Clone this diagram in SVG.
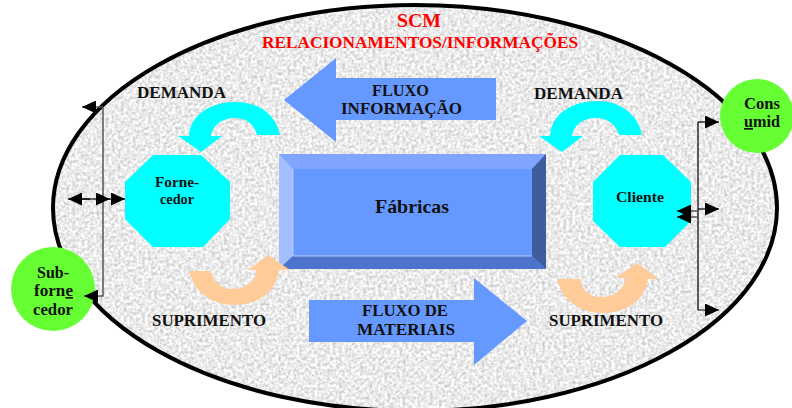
<svg xmlns="http://www.w3.org/2000/svg" width="792" height="408" viewBox="0 0 792 408">
<style>
text{font-family:"Liberation Serif","Times New Roman",serif;font-weight:bold;fill:#111;text-anchor:middle}
.l{font-size:16.5px}
.s{font-size:14px}
.n{font-size:16.5px}
.r{fill:#f00}
.c{fill:#0ff}
.o{fill:#fc9}
.b{fill:#69f}
.g{fill:#6f3}
.w{fill:none;stroke:#000;stroke-width:1.2}
.y{fill:none;stroke:#555;stroke-width:1.5}
</style>
<defs>
<filter id="grain" x="0" y="0" width="100%" height="100%" color-interpolation-filters="sRGB">
<feTurbulence type="fractalNoise" baseFrequency="0.33" numOctaves="2" seed="4"/>
<feColorMatrix values="0.42 0 0 0 0.71  0.42 0 0 0 0.71  0.42 0 0 0 0.71  0 0 0 0 1"/>
</filter>
<clipPath id="ec"><ellipse cx="415" cy="208" rx="362" ry="203"/></clipPath>
<marker id="h" markerWidth="14" markerHeight="13" refX="14" refY="6.5" orient="auto" markerUnits="userSpaceOnUse"><path d="M0 0L14 6.5L0 13Z" fill="#000"/></marker>
</defs>
<g id="background">
<g clip-path="url(#ec)"><rect x="50" y="3" width="730" height="405" filter="url(#grain)"/></g>
<ellipse cx="415" cy="208" rx="362" ry="203" fill="none" stroke="#000" stroke-width="4"/>
</g>
<g id="titles">
<text x="419" y="27" class="r" style="font-size:18.5px" textLength="44" lengthAdjust="spacingAndGlyphs">SCM</text>
<text x="420" y="48" class="r" style="font-size:16.5px" textLength="316" lengthAdjust="spacingAndGlyphs">RELACIONAMENTOS/INFORMAÇÕES</text>
</g>
<g id="fluxo-informacao">
<path class="b" d="M284 100L336 58V78H496V120H336V142Z"/>
<text x="400.5" y="96" class="l" textLength="57" lengthAdjust="spacingAndGlyphs">FLUXO</text>
<text x="401.5" y="114" class="l" textLength="121" lengthAdjust="spacingAndGlyphs">INFORMAÇÃO</text>
</g>
<g id="fluxo-materiais">
<path class="b" d="M309 300H474V278L527 321L474 365V342H309Z"/>
<text x="405" y="316" class="l" textLength="86" lengthAdjust="spacingAndGlyphs">FLUXO DE</text>
<text x="406" y="335" class="l" textLength="98" lengthAdjust="spacingAndGlyphs">MATERIAIS</text>
</g>
<g id="fabricas">
<rect x="279" y="154" width="267" height="115" fill="#69f"/>
<path fill="#80a5ff" d="M279 154H546L532 169H293Z"/>
<path fill="#a3bfff" d="M279 154L293 169V256L279 269Z"/>
<path fill="#3f5c9c" d="M546 154L532 169V256L546 269Z"/>
<path fill="#4d73cc" d="M279 269L293 256H532L546 269Z"/>
<path fill="none" stroke="#b8ccff" stroke-width="1" d="M293 169V256H532"/>
<text x="412" y="213" style="font-size:19px" textLength="74" lengthAdjust="spacingAndGlyphs">Fábricas</text>
</g>
<g id="fornecedor">
<path class="c" d="M153 155H201L230 182V219L203 247H153L125 219V182Z"/>
<text x="177" y="187" class="s" textLength="44" lengthAdjust="spacingAndGlyphs">Forne-</text>
<text x="177" y="204" class="s" textLength="34" lengthAdjust="spacingAndGlyphs">cedor</text>
</g>
<g id="cliente">
<path class="c" d="M620 155H663L691 182V221L665 247H620L593 221V182Z"/>
<text x="640" y="202" class="s" textLength="48" lengthAdjust="spacingAndGlyphs">Cliente</text>
</g>
<g id="subfornecedor">
<circle class="g" cx="53" cy="289" r="42"/>
<text x="53" y="278" class="n" textLength="32" lengthAdjust="spacingAndGlyphs">Sub-</text>
<text x="53.5" y="296" class="n" textLength="39" lengthAdjust="spacingAndGlyphs">forn<tspan text-decoration="underline">e</tspan></text>
<text x="53" y="315" class="n" textLength="40" lengthAdjust="spacingAndGlyphs">cedor</text>
</g>
<g id="consumid">
<circle class="g" cx="757" cy="116" r="37"/>
<text x="762" y="109" class="n" textLength="36" lengthAdjust="spacingAndGlyphs">Cons</text>
<text x="762" y="127" class="n" textLength="36" lengthAdjust="spacingAndGlyphs"><tspan text-decoration="underline">u</tspan>mid</text>
</g>
<g id="demanda-esq">
<path class="c" d="M280 135C276 114 258 102 236 102C210 102 190 115 189 136H178L201 152L222 136H211C213 124 223 118 235 118C246 118 254 124 257 135Z"/>
<text x="181.500" y="98" class="l" textLength="89" lengthAdjust="spacingAndGlyphs">DEMANDA</text>
</g>
<g id="demanda-dir">
<path class="c" d="M642 135C638 114 620 101 597 101C571 101 551 115 550 136H539L562 152L583 136H572C574 124 584 118 596 118C607 118 616 124 619 135Z"/>
<text x="578.500" y="99" class="l" textLength="89" lengthAdjust="spacingAndGlyphs">DEMANDA</text>
</g>
<g id="suprimento-esq">
<path class="o" d="M189 271C194 292 212 305 235 305C258 305 276 292 279 270H290L268 255L248 270H257C255 282 246 289 233 289C222 289 213 283 211 271Z"/>
<text x="209" y="326" class="l" textLength="114" lengthAdjust="spacingAndGlyphs">SUPRIMENTO</text>
</g>
<g id="suprimento-dir">
<path class="o" d="M557 279C562 300 580 313 603 313C626 313 645 300 648 279H659L637 263L616 278H626C624 290 614 297 601 297C590 297 582 291 580 279Z"/>
<text x="606" y="326" class="l" textLength="114" lengthAdjust="spacingAndGlyphs">SUPRIMENTO</text>
</g>
<g id="connectors">
<path class="y" d="M103 107V296H84" marker-end="url(#h)"/>
<path class="y" d="M103 107H82" marker-end="url(#h)"/>
<path class="w" d="M90 199H68" marker-end="url(#h)"/>
<path class="w" d="M80 199H110" marker-end="url(#h)"/>
<path class="w" d="M100 199H125" marker-end="url(#h)"/>
<path class="w" d="M698 122V310H719" marker-end="url(#h)"/>
<path class="w" d="M698 122H719" marker-end="url(#h)"/>
<path class="w" d="M698 209H719" marker-end="url(#h)"/>
<path class="y" d="M698 211H677" marker-end="url(#h)"/>
<path class="y" d="M698 217H677" marker-end="url(#h)"/>
</g>
</svg>
